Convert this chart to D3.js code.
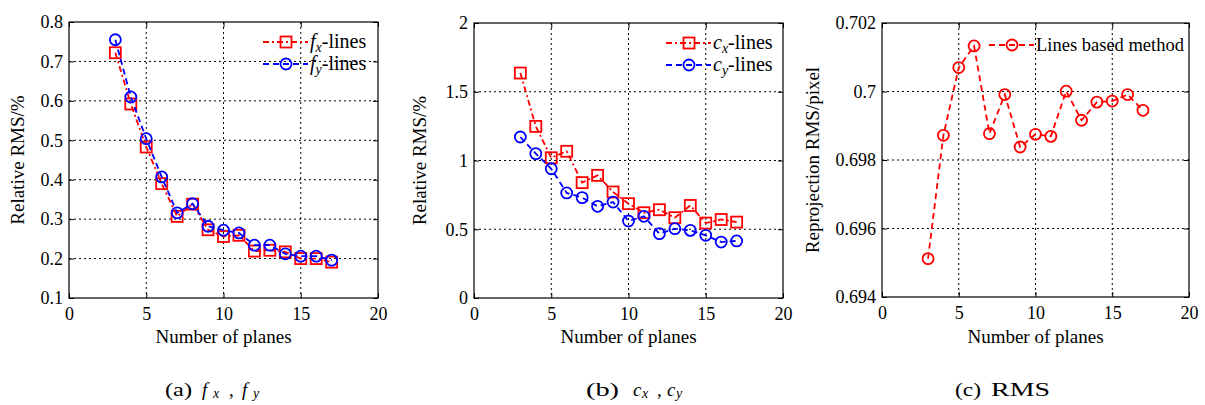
<!DOCTYPE html>
<html>
<head>
<meta charset="utf-8">
<script src="https://cdn.jsdelivr.net/npm/d3@7"></script>
<style>
  body { margin: 0; background: #fff; }
  svg text { font-family: "Liberation Serif", "DejaVu Serif", serif; }
</style>
</head>
<body>
<script>
let planes = [3, 4, 5, 6, 7, 8, 9, 10, 11, 12, 13, 14, 15, 16, 17];

let fxLines = [0.722, 0.592, 0.483, 0.39, 0.307, 0.338, 0.273, 0.256, 0.259, 0.219, 0.221, 0.217, 0.2, 0.2, 0.191];
let fyLines = [0.755, 0.61, 0.504, 0.407, 0.316, 0.339, 0.282, 0.272, 0.265, 0.234, 0.234, 0.212, 0.206, 0.206, 0.196];

let cxLines = [1.636, 1.248, 1.02, 1.067, 0.839, 0.892, 0.771, 0.686, 0.62, 0.642, 0.584, 0.673, 0.545, 0.571, 0.552];
let cyLines = [1.171, 1.05, 0.94, 0.764, 0.73, 0.667, 0.698, 0.56, 0.594, 0.468, 0.504, 0.492, 0.456, 0.407, 0.415];

let rmsLines = [0.69512, 0.69872, 0.7007, 0.70133, 0.69877, 0.69991, 0.69838, 0.69875, 0.69869, 0.70001, 0.69916, 0.69969, 0.69972, 0.69991, 0.69945];

let xTicks = [0, 5, 10, 15, 20];
let yTicksA = [0.1, 0.2, 0.3, 0.4, 0.5, 0.6, 0.7, 0.8];
let yTicksB = [0, 0.5, 1, 1.5, 2];
let yTicksC = [0.694, 0.696, 0.698, 0.7, 0.702];

let width = 1205;
let height = 405;
let serif = "Liberation Serif";

let svg = d3
  .select("body")
  .append("svg")
  .attr("width", width)
  .attr("height", height);

svg.append("rect").attr("width", width).attr("height", height).attr("fill", "#fff");

let drawMarkers = (g, s, pts) => {
  if (s.marker === "square") {
    g.selectAll(null)
      .data(pts)
      .enter()
      .append("rect")
      .attr("x", (d) => d[0] - 5.5).attr("y", (d) => d[1] - 5.5)
      .attr("width", 11).attr("height", 11)
      .attr("fill", "none").attr("stroke", s.color).attr("stroke-width", 1.8);
  } else {
    g.selectAll(null)
      .data(pts)
      .enter()
      .append("circle")
      .attr("cx", (d) => d[0]).attr("cy", (d) => d[1]).attr("r", 5.5)
      .attr("fill", "none").attr("stroke", s.color).attr("stroke-width", 1.8);
  }
};

// one panel of the figure
let drawPanel = (p) => {
  let x = d3.scaleLinear().domain([0, 20]).range([p.left, p.right]);
  let y = d3.scaleLinear().domain(p.yDomain).range([p.bottom, p.top]);
  let g = svg.append("g");

  // grid
  g.selectAll(".gx")
    .data(xTicks.slice(1, -1))
    .enter()
    .append("line")
    .attr("x1", (d) => x(d)).attr("x2", (d) => x(d))
    .attr("y1", p.top).attr("y2", p.bottom)
    .attr("stroke", "#000").attr("stroke-width", 1)
    .attr("stroke-dasharray", "2,3");
  g.selectAll(".gy")
    .data(p.yTicks.slice(1, -1))
    .enter()
    .append("line")
    .attr("y1", (d) => y(d)).attr("y2", (d) => y(d))
    .attr("x1", p.left).attr("x2", p.right)
    .attr("stroke", "#000").attr("stroke-width", 1)
    .attr("stroke-dasharray", "2,3");

  // axes with inside ticks
  g.append("g")
    .attr("transform", `translate(0,${p.bottom})`)
    .call(d3.axisBottom(x).tickValues(xTicks).tickSizeInner(-5).tickSizeOuter(0).tickPadding(9))
    .call((a) => a.select(".domain").remove());
  g.append("g")
    .attr("transform", `translate(${p.left},0)`)
    .call(d3.axisLeft(y).tickValues(p.yTicks).tickFormat(p.fmt).tickSizeInner(-5).tickSizeOuter(0).tickPadding(6))
    .call((a) => a.select(".domain").remove());
  g.append("g")
    .attr("transform", `translate(0,${p.top})`)
    .call(d3.axisTop(x).tickValues(xTicks).tickSizeInner(-5).tickSizeOuter(0).tickFormat(""))
    .call((a) => a.select(".domain").remove());
  g.append("g")
    .attr("transform", `translate(${p.right},0)`)
    .call(d3.axisRight(y).tickValues(p.yTicks).tickSizeInner(-5).tickSizeOuter(0).tickFormat(""))
    .call((a) => a.select(".domain").remove());
  g.selectAll("g").attr("font-family", serif);
  g.selectAll(".tick text")
    .attr("font-size", "18px")
    .attr("font-family", serif)
    .attr("fill", "#000");
  g.selectAll(".tick line").attr("stroke", "#000");

  g.append("rect")
    .attr("x", p.left).attr("y", p.top)
    .attr("width", p.right - p.left).attr("height", p.bottom - p.top)
    .attr("fill", "none").attr("stroke", "#000").attr("stroke-width", 1.2);

  // axis titles
  g.append("text")
    .attr("x", (p.left + p.right) / 2).attr("y", 343)
    .attr("text-anchor", "middle").attr("font-size", "19px")
    .attr("font-family", serif)
    .text("Number of planes");
  g.append("text")
    .attr("transform", `translate(${p.yLabelX},${(p.top + p.bottom) / 2}) rotate(-90)`)
    .attr("text-anchor", "middle").attr("font-size", "19px")
    .attr("font-family", serif)
    .text(p.yLabel);

  // series
  p.series.forEach((s) => {
    let line = d3.line().x((d, i) => x(planes[i])).y((d) => y(d));
    g.append("path")
      .datum(s.values)
      .attr("d", line)
      .attr("fill", "none").attr("stroke", s.color).attr("stroke-width", 1.8)
      .attr("stroke-dasharray", s.dash);
    drawMarkers(g, s, s.values.map((d, i) => [x(planes[i]), y(d)]));
  });

  // legend
  p.series.forEach((s, k) => {
    let ly = p.legendY + k * 22;
    g.append("line")
      .attr("x1", p.legendX).attr("x2", p.legendX + 45)
      .attr("y1", ly).attr("y2", ly)
      .attr("stroke", s.color).attr("stroke-width", 1.8)
      .attr("stroke-dasharray", s.dash);
    drawMarkers(g, s, [[p.legendX + 23, ly]]);
    let t = g.append("text")
      .attr("x", p.legendX + 47).attr("y", ly + 6)
      .attr("font-size", p.legendSize)
      .attr("font-family", serif);
    if (s.sym) {
      t.append("tspan").attr("font-style", "italic").text(s.sym);
      t.append("tspan").attr("font-style", "italic").attr("font-size", "14px").attr("dy", 4).text(s.sub);
      t.append("tspan").attr("dy", -4).text("-lines");
    } else {
      t.text(s.name);
    }
  });
};

drawPanel({
  left: 69, right: 378, top: 22, bottom: 298,
  yDomain: [0.1, 0.8], yTicks: yTicksA, fmt: d3.format(".1f"),
  yLabel: "Relative RMS/%", yLabelX: 24,
  legendX: 263, legendY: 42, legendSize: "20px",
  series: [
    { values: fxLines, color: "#ff0000", dash: "6,3,2,3", marker: "square", sym: "f", sub: "x" },
    { values: fyLines, color: "#0000ff", dash: "6,4", marker: "circle", sym: "f", sub: "y" },
  ],
});

drawPanel({
  left: 474, right: 783, top: 23, bottom: 298,
  yDomain: [0, 2], yTicks: yTicksB, fmt: (d) => String(d),
  yLabel: "Relative RMS/%", yLabelX: 426,
  legendX: 666, legendY: 43, legendSize: "20px",
  series: [
    { values: cxLines, color: "#ff0000", dash: "6,3,2,3", marker: "square", sym: "c", sub: "x" },
    { values: cyLines, color: "#0000ff", dash: "6,4", marker: "circle", sym: "c", sub: "y" },
  ],
});

drawPanel({
  left: 882, right: 1189, top: 23, bottom: 297,
  yDomain: [0.694, 0.702], yTicks: yTicksC, fmt: (d) => String(d),
  yLabel: "Reprojection RMS/pixel", yLabelX: 819,
  legendX: 989, legendY: 45, legendSize: "18.5px",
  series: [
    { values: rmsLines, color: "#ff0000", dash: "6,4", marker: "circle", name: "Lines based method" },
  ],
});

// captions: [text, x, style, width]
let captions = [
  [["(a)", 165, "", 27], ["f", 202, "i"], ["x", 213, "s"], [",", 229, ""], ["f", 242, "i"], ["y", 253, "s"]],
  [["(b)", 586, "", 33], ["c", 633, "i"], ["x", 642, "s"], [",", 657, ""], ["c", 667, "i"], ["y", 676, "s"]],
  [["(c)", 955, "", 26], ["RMS", 991, "", 59]],
];
captions.forEach((parts) => {
  parts.forEach(([txt, cx, kind, w]) => {
    let t = svg.append("text")
      .attr("x", cx).attr("y", kind === "s" ? 398 : 396)
      .attr("font-size", kind === "s" ? "14px" : "19px")
      .attr("font-family", serif)
      .text(txt);
    if (kind) t.attr("font-style", "italic");
    if (w) t.attr("textLength", w).attr("lengthAdjust", "spacingAndGlyphs");
  });
});
</script>
</body>
</html>
